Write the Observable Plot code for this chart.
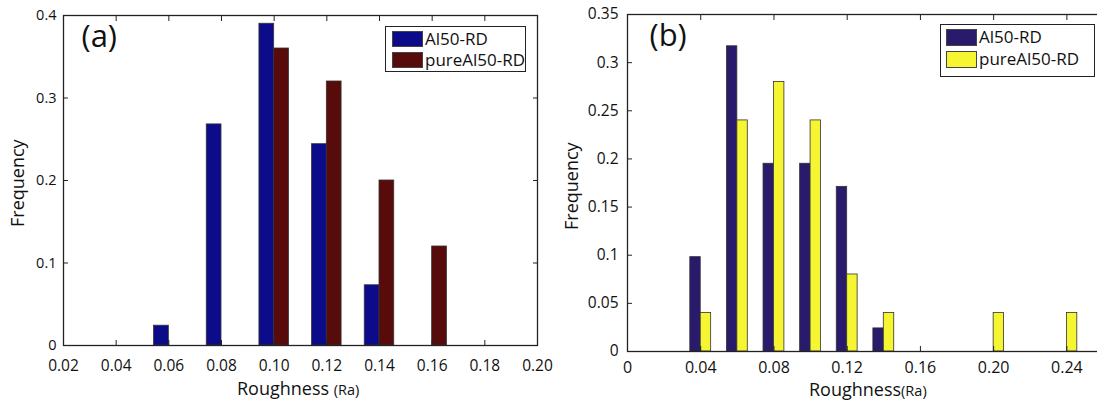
<!DOCTYPE html>
<html>
<head>
<meta charset="utf-8">
<script src="https://cdn.jsdelivr.net/npm/d3@7"></script>
<script src="https://cdn.jsdelivr.net/npm/@observablehq/plot@0.6"></script>
<style>
  body { margin: 0; background: #fff; overflow: hidden; }
  #wrap { position: relative; width: 1097px; height: 401px; overflow: hidden; font-family: "Open Sans", sans-serif; color: #111; }
  .panel { position: absolute; top: 0; }
  .lbl { position: absolute; white-space: nowrap; font-size: 18px; line-height: 1; }
  .lbl small { font-size: 14.5px; }
  .rot { transform-origin: 0 0; transform: rotate(-90deg); }
  .leg { position: absolute; border: 1.5px solid #222; background: #fff; box-sizing: border-box; }
  .sw { position: absolute; box-sizing: border-box; border: 1px solid #444; }
  .lt { position: absolute; white-space: nowrap; line-height: 1; }
</style>
</head>
<body>
<div id="wrap"></div>
<script>
// ---------- data ----------
const roughnessA = [0.06, 0.08, 0.10, 0.12, 0.14, 0.16];
const al50A      = [0.024, 0.268, 0.390, 0.244, 0.073, 0];
const pureAl50A  = [0, 0, 0.36, 0.32, 0.20, 0.12];

const roughnessB = [0.04, 0.06, 0.08, 0.10, 0.12, 0.14, 0.20, 0.24];
const al50B      = [0.098, 0.317, 0.195, 0.195, 0.171, 0.024, 0, 0];
const pureAl50B  = [0.04, 0.24, 0.28, 0.24, 0.08, 0.04, 0.04, 0.04];

const seriesNames = ["Al50-RD", "pureAl50-RD"];

const xTicksA = [0.02, 0.04, 0.06, 0.08, 0.10, 0.12, 0.14, 0.16, 0.18, 0.20];
const xTickLabelsA = ["0.02", "0.04", "0.06", "0.08", "0.10", "0.12", "0.14", "0.16", "0.18", "0.20"];
const yTicksA = [0, 0.1, 0.2, 0.3, 0.4];
const yTickLabelsA = ["0", "0.1", "0.2", "0.3", "0.4"];

const xTicksB = [0, 0.04, 0.08, 0.12, 0.16, 0.20, 0.24];
const xTickLabelsB = ["0", "0.04", "0.08", "0.12", "0.16", "0.20", "0.24"];
const yTicksB = [0, 0.05, 0.1, 0.15, 0.2, 0.25, 0.3, 0.35];
const yTickLabelsB = ["0", "0.05", "0.1", "0.15", "0.2", "0.25", "0.3", "0.35"];

// ---------- drawing ----------
function panel(o) {
  const left = [], right = [];
  o.xs.forEach((x, i) => {
    if (o.s1[i] > 0) left.push({x, v: o.s1[i]});
    if (o.s2[i] > 0) right.push({x, v: o.s2[i]});
  });
  const fmt = (ticks, labels) => d => labels[ticks.findIndex(t => Math.abs(t - d) < 1e-9)];
  return Plot.plot({
    width: o.width, height: 401,
    marginLeft: o.ml, marginRight: o.mr, marginTop: o.mt, marginBottom: o.mb,
    x: {domain: o.xDomain, label: null},
    y: {domain: o.yDomain, label: null},
    style: {fontFamily: "Open Sans, sans-serif", background: "transparent", overflow: "visible", color: "#111"},
    marks: [
      Plot.rectY(left,  {x1: d => d.x - o.bw, x2: d => d.x, y: "v", fill: o.c1, stroke: "#333", strokeWidth: 0.8}),
      Plot.rectY(right, {x1: d => d.x, x2: d => d.x + o.bw, y: "v", fill: o.c2, stroke: "#333", strokeWidth: 0.8}),
      Plot.axisX(o.xTicks, {anchor: "bottom", tickSize: 0, tickPadding: o.xpad, tickFormat: fmt(o.xTicks, o.xLabels), fontSize: o.fs, label: null}),
      Plot.axisX(o.xTicks, {anchor: "bottom", tickSize: -5, tickFormat: () => "", stroke: "#222", label: null}),
      Plot.axisX(o.xTicks, {anchor: "top", tickSize: -5, tickFormat: () => "", stroke: "#222", label: null}),
      Plot.axisY(o.yTicks, {anchor: "left", tickSize: 0, tickPadding: o.ypad, tickFormat: fmt(o.yTicks, o.yLabels), fontSize: o.fsy, label: null}),
      Plot.axisY(o.yTicks, {anchor: "left", tickSize: -5, tickFormat: () => "", stroke: "#222", label: null}),
      Plot.axisY(o.yTicks, {anchor: "right", tickSize: -5, tickFormat: () => "", stroke: "#222", label: null}),
      Plot.frame({stroke: "#222", strokeWidth: 1.3}),
      Plot.text([o.tag], {text: d => d, frameAnchor: "top-left", dx: o.tagDx, dy: o.tagDy, fontSize: 31, textAnchor: "start", lineAnchor: "top", fill: "#111"})
    ]
  });
}

const wrap = document.getElementById("wrap");

const pa = panel({
  xs: roughnessA, s1: al50A, s2: pureAl50A, c1: "#0c0c8a", c2: "#580b0b", bw: 0.0056,
  xDomain: [0.02, 0.20], yDomain: [0, 0.4],
  xTicks: xTicksA, xLabels: xTickLabelsA, yTicks: yTicksA, yLabels: yTickLabelsA,
  width: 550, ml: 63, mr: 13, mt: 15, mb: 56, xpad: 14, ypad: 7, fs: 15.5, fsy: 14.5,
  tag: "(a)", tagDx: 18, tagDy: 9
});
pa.classList.add("panel"); pa.style.left = "0px";
wrap.appendChild(pa);

const pb = panel({
  xs: roughnessB, s1: al50B, s2: pureAl50B, c1: "#291a6c", c2: "#f5f532", bw: 0.0057,
  xDomain: [0, 0.26], yDomain: [0, 0.35],
  xTicks: xTicksB, xLabels: xTickLabelsB, yTicks: yTicksB, yLabels: yTickLabelsB,
  width: 560, ml: 77, mr: 7, mt: 14, mb: 50, xpad: 10, ypad: 9, fs: 16, fsy: 15.5,
  tag: "(b)", tagDx: 22, tagDy: 9
});
pb.classList.add("panel"); pb.style.left = "550px";
wrap.appendChild(pb);

// axis titles
function addLabel(html, x, y, cls) {
  const d = document.createElement("div");
  d.className = "lbl" + (cls ? " " + cls : "");
  d.innerHTML = html;
  d.style.left = x + "px"; d.style.top = y + "px";
  wrap.appendChild(d);
  return d;
}
const xa = addLabel("Roughness <small>(Ra)</small>", 0, 379);
xa.style.left = (298 - xa.offsetWidth / 2) + "px";
const xb = addLabel("Roughness<small>(Ra)</small>", 0, 380);
xb.style.left = (868 - xb.offsetWidth / 2) + "px";
const fa = addLabel("Frequency", 8, 0, "rot");
fa.style.top = (183 + fa.offsetWidth / 2) + "px";
const fb = addLabel("Frequency", 562, 0, "rot");
fb.style.top = (186 + fb.offsetWidth / 2) + "px";

// legends
function legend(box, sw, colors, fontSize) {
  const l = document.createElement("div");
  l.className = "leg";
  Object.assign(l.style, {left: box[0] + "px", top: box[1] + "px", width: box[2] + "px", height: box[3] + "px"});
  seriesNames.forEach((name, i) => {
    const s = document.createElement("div");
    s.className = "sw";
    Object.assign(s.style, {left: sw[0] + "px", top: (sw[1] + i * sw[4]) + "px", width: sw[2] + "px", height: sw[3] + "px", background: colors[i]});
    l.appendChild(s);
    const t = document.createElement("div");
    t.className = "lt";
    t.textContent = name;
    Object.assign(t.style, {left: (sw[0] + sw[2] + 2) + "px", top: (sw[1] + i * sw[4] - 1) + "px", fontSize: fontSize + "px"});
    l.appendChild(t);
  });
  wrap.appendChild(l);
}
legend([385, 26, 141, 46], [6, 4, 31, 16, 21], ["#0c0c8a", "#580b0b"], 17);
legend([940, 24, 155, 53], [5, 4, 31, 17, 22], ["#291a6c", "#f5f532"], 17);
</script>
</body>
</html>
